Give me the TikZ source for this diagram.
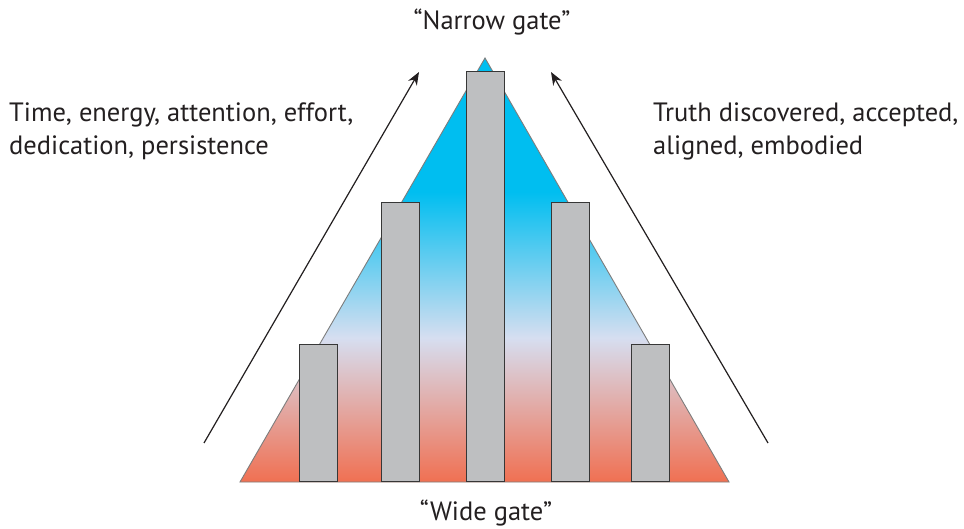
\documentclass[tikz,border=0pt]{standalone}
\usepackage{fontspec}
\setmainfont{PT Sans}
\usetikzlibrary{arrows.meta}
\definecolor{cyanA}{RGB}{0,190,240}
\definecolor{lavA}{RGB}{214,222,240}
\definecolor{salA}{RGB}{240,112,82}
\definecolor{barfill}{RGB}{190,191,193}
\definecolor{bardraw}{RGB}{55,55,55}
\definecolor{triedge}{RGB}{125,125,125}
\definecolor{txt}{RGB}{35,31,32}
\pgfdeclareverticalshading{gateshade}{100bp}{color(0bp)=(salA); color(25bp)=(salA); color(42bp)=(lavA); color(59.2bp)=(cyanA); color(100bp)=(cyanA)}
\tikzset{
  bar/.style={draw=bardraw, fill=barfill, line width=1.2pt},
  lbl/.style={font=\fontsize{26.5}{33}\selectfont, text=txt, inner sep=0pt},
  arr/.style={draw=txt, line width=1.2pt, -{Stealth[length=13pt,width=10pt]}}
}
\begin{document}
\begin{tikzpicture}[x=1pt,y=-1pt]
\useasboundingbox (0,0) rectangle (964,529);
\fill[white] (0,0) rectangle (964,529);
% triangle
\coordinate (apex) at (485,58);
\coordinate (bl) at (240,482);
\coordinate (br) at (729,482);
\shade[shading=gateshade, draw=triedge, line width=0.9pt] (apex) -- (br) -- (bl) -- cycle;
% bars
\node[bar, minimum width=38pt, minimum height=137pt, inner sep=0pt, anchor=south west] (b1) at (299,482) {};
\node[bar, minimum width=38pt, minimum height=279pt, inner sep=0pt, anchor=south west] (b2) at (381,482) {};
\node[bar, minimum width=38pt, minimum height=410pt, inner sep=0pt, anchor=south west] (b3) at (466,482) {};
\node[bar, minimum width=38pt, minimum height=279pt, inner sep=0pt, anchor=south west] (b4) at (551,482) {};
\node[bar, minimum width=38pt, minimum height=137pt, inner sep=0pt, anchor=south west] (b5) at (631,482) {};
% arrows
\coordinate (la1) at (204,443);
\coordinate (la2) at (419,72);
\coordinate (ra1) at (768,443);
\coordinate (ra2) at (551,72);
\draw[arr] (la1) -- (la2);
\draw[arr] (ra1) -- (ra2);
% labels
\node[lbl] (narrow) at (492,22) {“Narrow gate”};
\node[lbl] (wide) at (486,513) {“Wide gate”};
\node[lbl, align=left, anchor=base west] (left) at (9,155) {Time, energy, attention, effort,\\dedication, persistence};
\node[lbl, align=left, anchor=base west] (right) at (653,155) {Truth discovered, accepted,\\aligned, embodied};
\end{tikzpicture}
\end{document}
